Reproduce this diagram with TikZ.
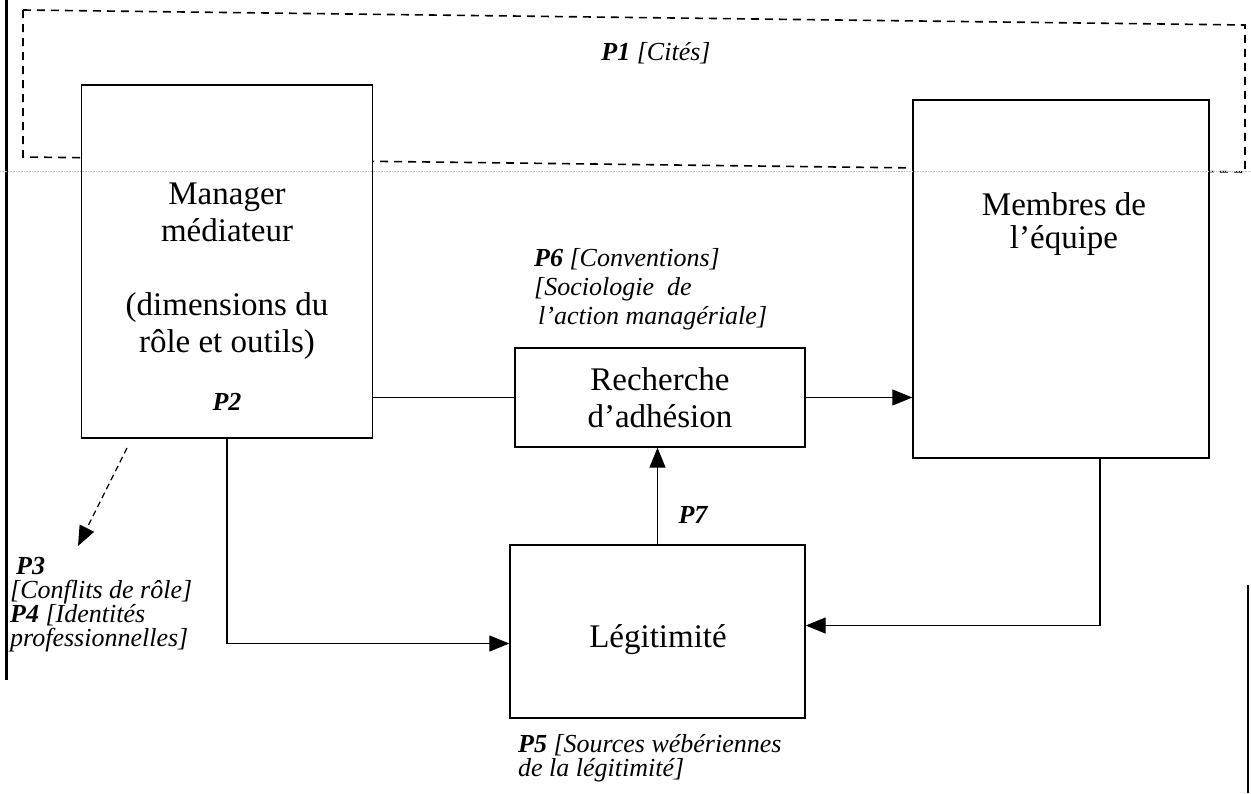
\documentclass[tikz,border=0pt]{standalone}
\usepackage{fontspec}
\setmainfont{Liberation Serif}
\usetikzlibrary{arrows.meta}

\tikzset{
  boite/.style={draw, line width=1.3pt, fill=white, inner sep=0pt},
  grand/.style={font=\fontsize{33}{37}\selectfont, align=center, inner sep=0pt},
  petit/.style={font=\fontsize{26}{28}\selectfont\itshape, align=left, inner sep=0pt},
  fleche/.style={line width=1.1pt, -{Triangle[length=20pt,width=16pt]}},
}

\begin{document}
\begin{tikzpicture}[x=1pt,y=-1pt]
\useasboundingbox (0,0) rectangle (1251,793);

% bords du scan
\draw[line width=3pt] (6,0) -- (6,680);
\draw[line width=2.5pt] (1248,585) -- (1248,793);

% cadre P1
\draw[line width=1.6pt, dash pattern=on 8pt off 6pt] (23,10) -- (1245,25) -- (1245,172) -- (23,157) -- cycle;
\node[petit] (p1) at (656,53) {\textbf{P1} [Cités]};

\node[boite, minimum width=291pt, minimum height=353pt] (mgr) at (227,261.5) {};
\node[boite, minimum width=296pt, minimum height=358pt] (mem) at (1061,279) {};
\node[boite, minimum width=290pt, minimum height=99pt] (rech) at (660,397.5) {};
\node[boite, minimum width=295pt, minimum height=173pt] (leg) at (657.5,631.5) {};

\draw[gray!50, line width=0.6pt, densely dotted] (0,171) -- (1251,171);

\node[grand] (mgrnom) at (227,212) {Manager\\médiateur};
\node[grand] (mgrdim) at (227,326) {(dimensions du\\rôle et outils)};
\node[petit] (p2) at (227,402) {\textbf{P2}};
\node[grand, font=\fontsize{33}{33}\selectfont] (memnom) at (1064,224) {Membres de\\l'équipe};
\node[grand] (rechnom) at (rech) {Recherche\\d'adhésion};
\node[grand] (legnom) at (658,640) {Légitimité};

\node[petit, anchor=north west, font=\fontsize{26}{29}\selectfont\itshape] (p6) at (534,248)
  {\textbf{P6} [Conventions]\\ {[}Sociologie~~de\\ \hspace{4pt}l'action managériale]};
\node[petit, anchor=north west, font=\fontsize{26}{24}\selectfont\itshape] (p3) at (10,557)
  {\hspace{6pt}\textbf{P3}\\ {[}Conflits de rôle]\\ \textbf{P4} [Identités\\ professionnelles]};
\node[petit, anchor=north west, font=\fontsize{26}{24}\selectfont\itshape] (p5) at (518,734)
  {\textbf{P5} [Sources wébériennes\\ de la légitimité]};
\node[petit] (p7) at (693,515) {\textbf{P7}};

\draw[line width=1.1pt] (mgr.east |- rech.west) -- (rech.west);
\draw[fleche] (rech.east) -- (rech.east -| mem.west);
\draw[fleche] (mgr.south) |- ([yshift=-12pt]leg.west);
\draw[fleche] ([xshift=39pt]mem.south) |- ([yshift=6pt]leg.east);
\draw[fleche] (leg.north) -- (leg.north |- rech.south);

\coordinate (p3a) at (127,448);
\coordinate (p3b) at (78,546);
\draw[fleche, line width=1.3pt, dash pattern=on 6pt off 4pt] (p3a) -- (p3b);
\end{tikzpicture}
\end{document}
